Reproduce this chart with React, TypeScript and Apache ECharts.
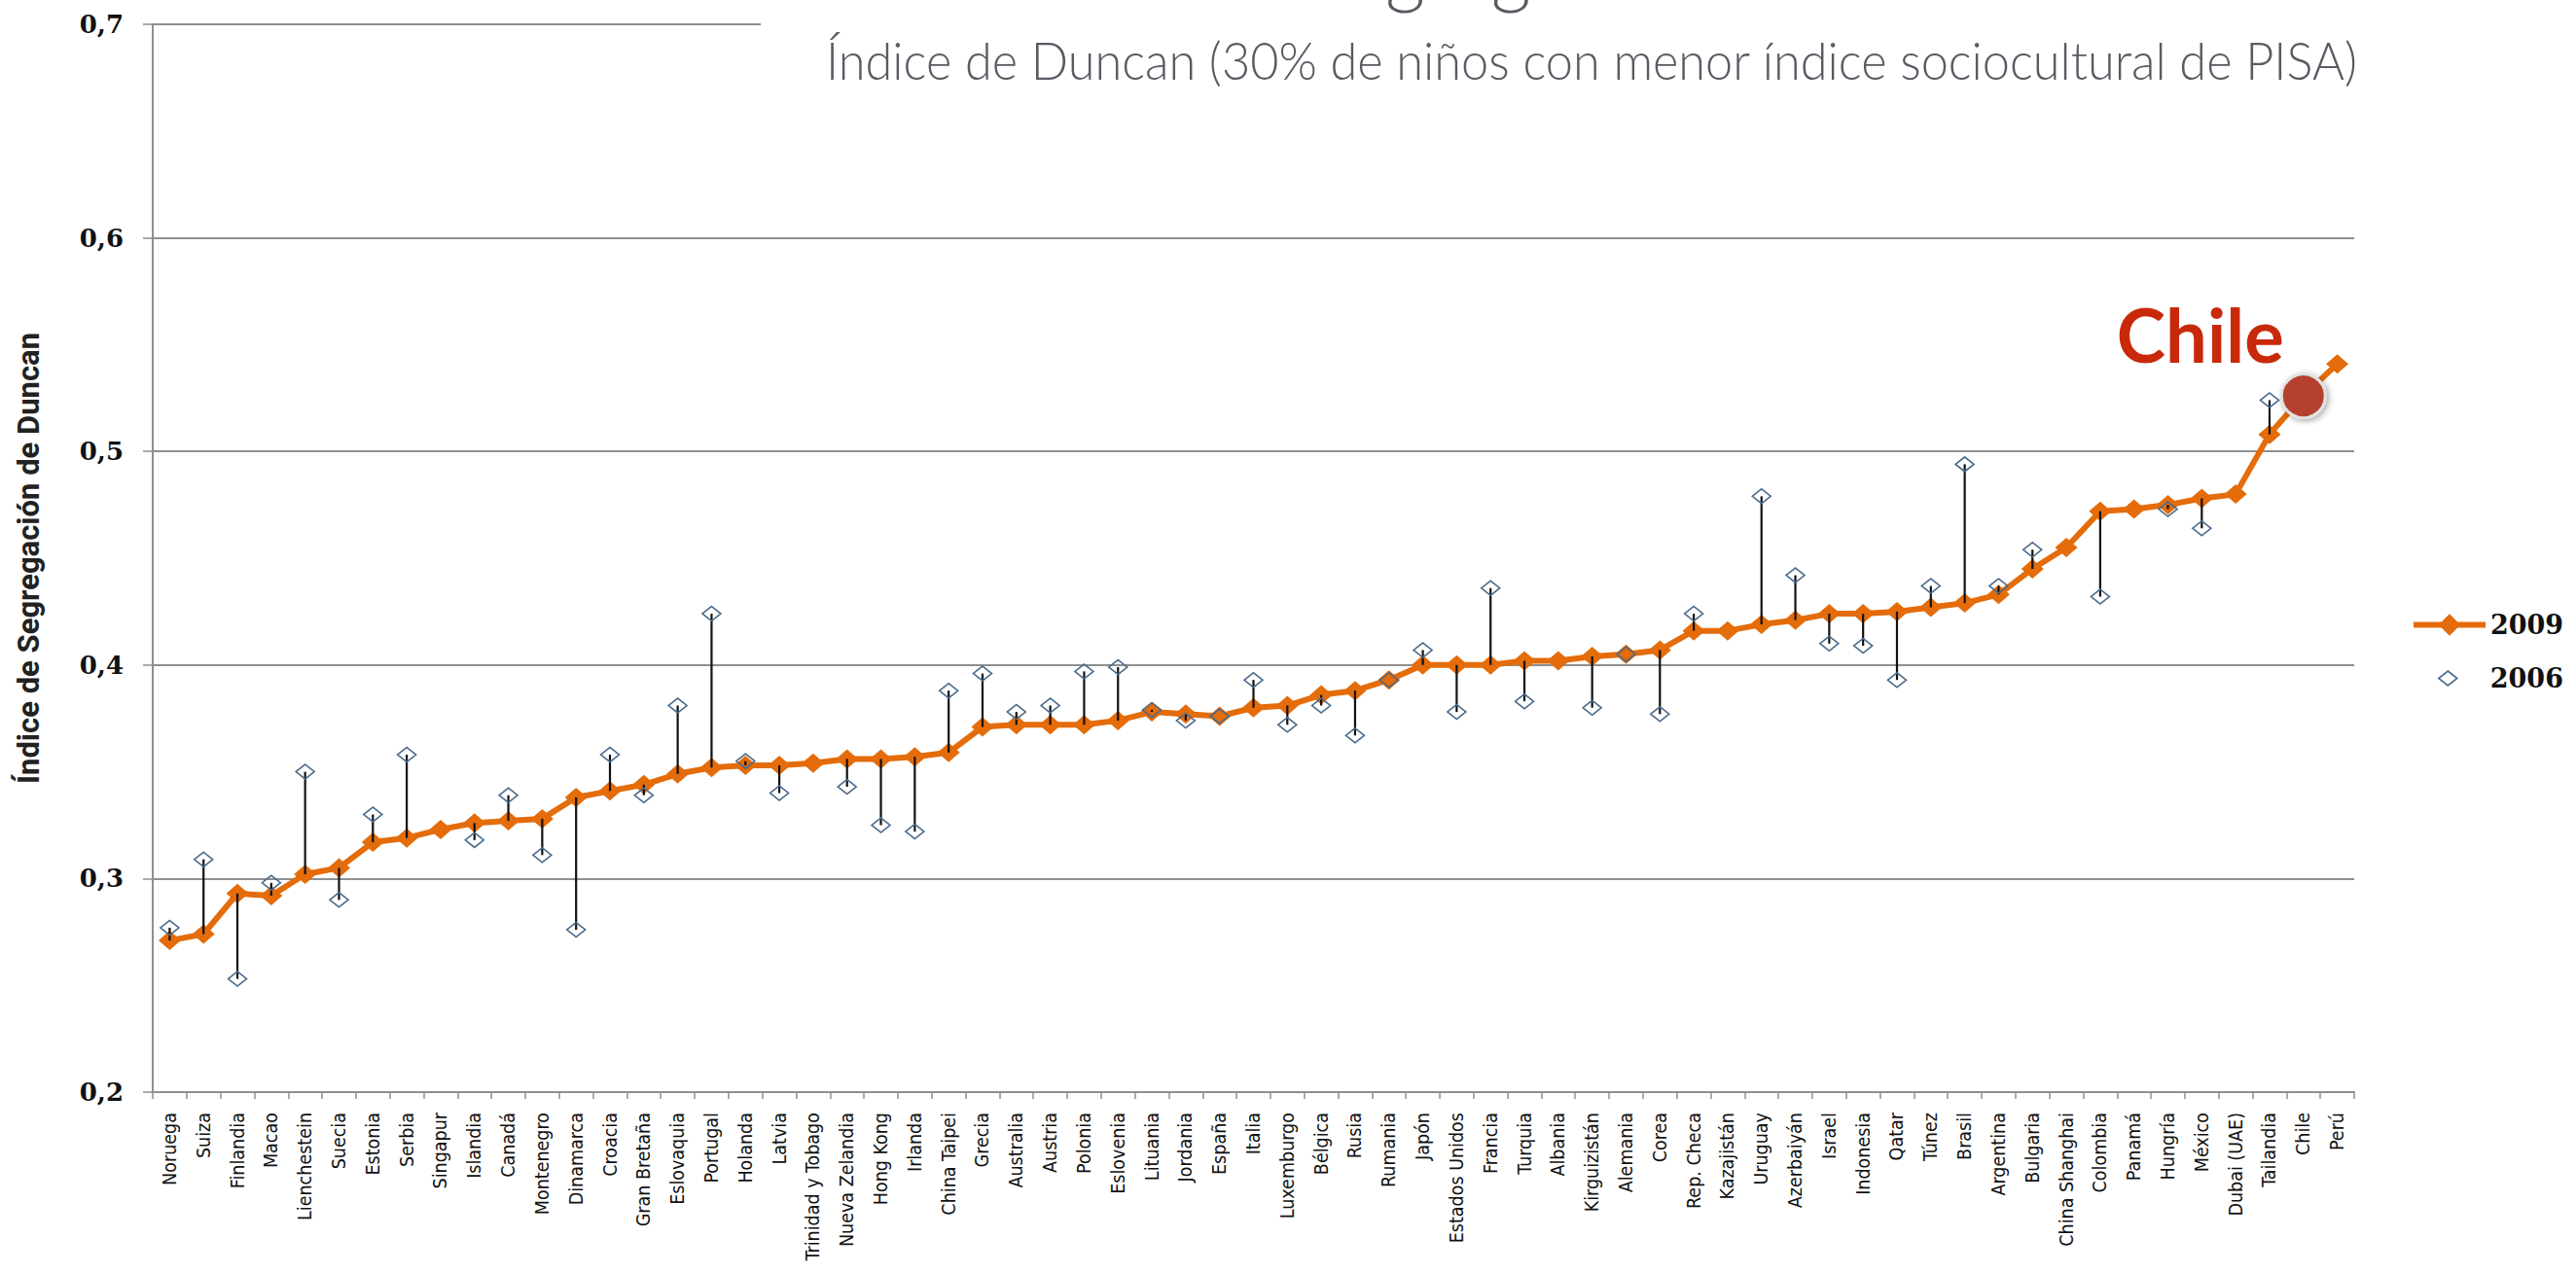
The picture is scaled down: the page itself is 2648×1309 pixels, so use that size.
import React, { useEffect, useRef } from 'react';
import * as echarts from 'echarts';

const countries = [
  'Noruega', 'Suiza', 'Finlandia', 'Macao', 'Lienchestein', 'Suecia', 'Estonia', 'Serbia', 'Singapur', 'Islandia', 'Canadá', 'Montenegro', 'Dinamarca',
  'Croacia', 'Gran Bretaña', 'Eslovaquia', 'Portugal', 'Holanda', 'Latvia', 'Trinidad y Tobago', 'Nueva Zelandia', 'Hong Kong', 'Irlanda', 'China Taipei', 'Grecia', 'Australia',
  'Austria', 'Polonia', 'Eslovenia', 'Lituania', 'Jordania', 'España', 'Italia', 'Luxemburgo', 'Bélgica', 'Rusia', 'Rumania', 'Japón', 'Estados Unidos',
  'Francia', 'Turquia', 'Albania', 'Kirguizistán', 'Alemania', 'Corea', 'Rep. Checa', 'Kazajistán', 'Uruguay', 'Azerbaiyán', 'Israel', 'Indonesia', 'Qatar',
  'Túnez', 'Brasil', 'Argentina', 'Bulgaria', 'China Shanghai', 'Colombia', 'Panamá', 'Hungría', 'México', 'Dubai (UAE)', 'Tailandia', 'Chile', 'Perú',
];

const duncan2009 = [
  0.271, 0.274, 0.293, 0.292, 0.302, 0.305, 0.317, 0.319, 0.323, 0.326, 0.327, 0.328, 0.338,
  0.341, 0.344, 0.349, 0.352, 0.353, 0.353, 0.354, 0.356, 0.356, 0.357, 0.359, 0.371, 0.372,
  0.372, 0.372, 0.374, 0.378, 0.377, 0.376, 0.380, 0.381, 0.386, 0.388, 0.393, 0.400, 0.400,
  0.400, 0.402, 0.402, 0.404, 0.405, 0.407, 0.416, 0.416, 0.419, 0.421, 0.424, 0.424, 0.425,
  0.427, 0.429, 0.433, 0.445, 0.455, 0.472, 0.473, 0.475, 0.478, 0.480, 0.508, 0.526, 0.541,
];

const duncan2006: (number | null)[] = [
  0.277, 0.309, 0.253, 0.298, 0.350, 0.290, 0.330, 0.358, null, 0.318, 0.339, 0.311, 0.276,
  0.358, 0.339, 0.381, 0.424, 0.355, 0.340, null, 0.343, 0.325, 0.322, 0.388, 0.396, 0.378,
  0.381, 0.397, 0.399, 0.379, 0.374, 0.376, 0.393, 0.372, 0.381, 0.367, 0.393, 0.407, 0.378,
  0.436, 0.383, null, 0.380, 0.405, 0.377, 0.424, null, 0.479, 0.442, 0.410, 0.409, 0.393,
  0.437, 0.494, 0.437, 0.454, null, 0.432, null, 0.473, 0.464, null, 0.524, 0.520, null,
];

const yMin = 0.2;
const yMax = 0.7;
const yStep = 0.1;
const highlightCountry = 'Chile';
const titleText = 'Segregación';
const subtitleText = 'Índice de Duncan (30% de niños con menor índice sociocultural de PISA)';
const yAxisTitle = 'Índice de Segregación de Duncan';

export default function App() {
  const ref = useRef<HTMLDivElement>(null);

  useEffect(() => {
    const chart = echarts.init(ref.current as HTMLDivElement, null, { renderer: 'svg' });
    const hiLo = countries
      .map((_, i) => (duncan2006[i] == null ? null : [i, duncan2006[i], duncan2009[i]]))
      .filter((d) => d !== null);
    const hIdx = countries.indexOf(highlightCountry);
    const grey = '#8f8f8f';
    const orange = '#E46C0A';
    const slate = '#4A6A8B';
    const legendText = { fontFamily: 'DejaVu Serif', fontWeight: 'bold', fontSize: 27, color: '#111' };

    chart.setOption({
      animation: false,
      backgroundColor: '#ffffff',
      grid: { left: 157, right: 228, top: 25, bottom: 186, outerBoundsMode: 'none' },
      legend: [
        {
          data: ['2009'],
          orient: 'vertical',
          left: 2473,
          top: 624,
          itemWidth: 74,
          itemHeight: 28,
          lineStyle: { width: 6, color: orange },
          textStyle: legendText,
        },
        {
          data: [{ name: '2006', icon: 'diamond' }],
          orient: 'vertical',
          left: 2501,
          top: 679,
          itemWidth: 19,
          itemHeight: 15,
          itemStyle: { color: 'rgba(255,255,255,0)', borderColor: slate, borderWidth: 1.6 },
          textStyle: { ...legendText, padding: [0, 0, 0, 29] },
        },
      ],
      xAxis: {
        type: 'category',
        data: countries,
        boundaryGap: true,
        axisLine: { lineStyle: { color: grey, width: 2 } },
        axisTick: { show: true, length: 7, interval: 0, lineStyle: { color: grey, width: 1.5 } },
        axisLabel: {
          interval: 0,
          rotate: 90,
          margin: 21,
          fontFamily: 'DejaVu Sans Condensed, DejaVu Sans',
          fontSize: 19.5,
          color: '#111',
        },
        splitLine: { show: false },
      },
      yAxis: {
        type: 'value',
        min: yMin,
        max: yMax,
        interval: yStep,
        name: yAxisTitle,
        nameLocation: 'middle',
        nameGap: 112,
        nameTextStyle: { fontFamily: 'Liberation Sans Narrow, Roboto, sans-serif', fontWeight: 'bold', fontSize: 31, color: '#222' },
        axisLine: { show: true, lineStyle: { color: grey, width: 2 } },
        axisTick: { show: true, length: 10, lineStyle: { color: grey, width: 1.5 } },
        axisLabel: {
          margin: 30,
          fontFamily: 'DejaVu Serif',
          fontWeight: 'bold',
          fontSize: 26,
          color: '#111',
          formatter: (v: number) => v.toFixed(1).replace('.', ','),
        },
        splitLine: { show: true, lineStyle: { color: grey, width: 2 } },
      },
      series: [
        {
          name: '2009',
          type: 'line',
          data: duncan2009,
          symbol: 'diamond',
          symbolSize: [23, 20],
          lineStyle: { color: orange, width: 6 },
          itemStyle: { color: orange },
          z: 2,
        },
        {
          name: 'hilo',
          type: 'custom',
          data: hiLo,
          encode: { x: 0, y: [1, 2] },
          z: 3,
          silent: true,
          renderItem: (params: any, api: any) => {
            const a = api.coord([api.value(0), api.value(1)]);
            const b = api.coord([api.value(0), api.value(2)]);
            return {
              type: 'line',
              shape: { x1: a[0], y1: a[1], x2: b[0], y2: b[1] },
              style: { stroke: '#111111', lineWidth: 2.2 },
            };
          },
        },
        {
          name: '2006',
          type: 'scatter',
          data: duncan2006.map((v) => (v == null ? '-' : v)),
          symbol: 'diamond',
          symbolSize: [19, 15],
          itemStyle: { color: 'rgba(255,255,255,0)', borderColor: slate, borderWidth: 1.6, opacity: 1 },
          z: 4,
        },
        {
          name: 'highlight',
          type: 'scatter',
          data: [[highlightCountry, duncan2009[hIdx]]],
          symbol: 'circle',
          symbolSize: 45,
          silent: true,
          itemStyle: {
            color: '#B5412E',
            opacity: 1,
            borderColor: '#e2e2e2',
            borderWidth: 3,
            shadowBlur: 6,
            shadowColor: 'rgba(0,0,0,0.35)',
            shadowOffsetX: 2,
            shadowOffsetY: 2,
          },
          label: {
            show: true,
            formatter: highlightCountry,
            position: [-82, -40],
            align: 'center',
            verticalAlign: 'middle',
            fontFamily: 'Lato, Noto Sans, sans-serif',
            fontWeight: 'bold',
            fontSize: 76,
            color: '#C8290B',
            opacity: 1,
          },
          z: 5,
        },
      ],
      graphic: [
        {
          type: 'rect',
          z: 50,
          x: 782,
          y: 0,
          shape: { width: 1866, height: 40 },
          style: { fill: '#ffffff' },
          silent: true,
        },
        {
          type: 'text',
          z: 60,
          x: 1340,
          y: -32,
          style: {
            text: titleText,
            fontFamily: 'Lato',
            fontWeight: 300,
            fontSize: 80,
            fill: '#575C63',
            align: 'left',
            verticalAlign: 'middle',
          },
        },
        {
          type: 'text',
          z: 60,
          x: 849,
          y: 61,
          scaleX: 0.935,
          style: {
            text: subtitleText,
            fontFamily: 'Lato',
            fontWeight: 300,
            fontSize: 54,
            fill: '#575C63',
            align: 'left',
            verticalAlign: 'middle',
          },
        },
      ],
    });

    return () => chart.dispose();
  }, []);

  return (
    <div
      ref={ref}
      style={{ position: 'fixed', left: 0, top: 0, width: 2648, height: 1309, background: '#ffffff' }}
    />
  );
}
